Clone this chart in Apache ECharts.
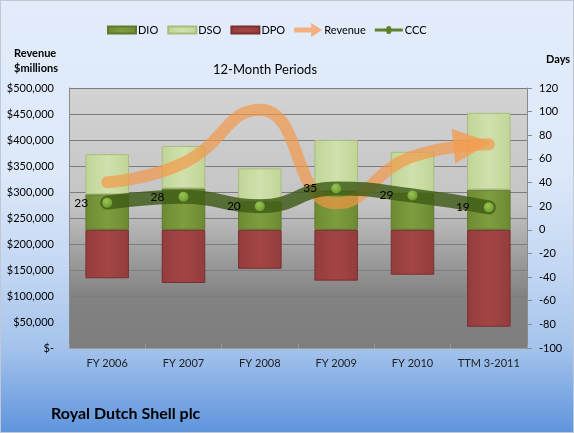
<!DOCTYPE html>
<html>
<head>
<meta charset="utf-8">
<script src="https://cdn.jsdelivr.net/npm/echarts@6/dist/echarts.min.js"></script>
<style>
html,body{margin:0;padding:0;}
#wrap{position:absolute;left:0;top:0;width:572px;height:431px;border:1px solid #bfc8d4;
background:linear-gradient(to bottom,#e2ecfa 0%,#dde8f9 40%,#c3d7f3 62%,#a6c4ec 80%,#5f95dd 100%);}
#chart{width:572px;height:431px;}
</style>
</head>
<body>
<div id="wrap"><div id="chart"></div></div>
<script>
const categories = ['FY 2006','FY 2007','FY 2008','FY 2009','FY 2010','TTM 3-2011'];
const dio = [30, 35, 24, 33, 31, 34];
const dso = [34, 36, 28, 43, 35, 65];
const dpo = [41, 45, 33, 43, 38, 82];
const revenue = [318845, 355782, 458361, 278188, 368056, 392000];
const ccc = [23, 28, 20, 35, 29, 19];
const revTicks = [0, 500000, 50000];
const dayTicks = [-100, 120, 20];

const FONT = 'Lato';
const chart = echarts.init(document.getElementById('chart'));

function hgrad(a,b){
  return new echarts.graphic.LinearGradient(0,0,1,0,[{offset:0,color:a},{offset:0.5,color:b},{offset:1,color:a}]);
}

const revData = revenue.map((v,i)=> i===revenue.length-1 ? {
  value:v, symbol:'path://M0,0L12,5.5L0,11Z', symbolSize:[37,35], symbolKeepAspect:false,
  symbolOffset:[-17,0], symbolRotate:6,
  itemStyle:{color:'rgba(244,155,80,0.78)'}
} : v);

const option = {
  backgroundColor:'transparent',
  animation:false,
  textStyle:{fontFamily:FONT},
  legend:{
    left:101, top:17, itemWidth:28, itemHeight:14, itemGap:9,
    textStyle:{fontFamily:FONT,fontSize:11,color:'#000',padding:[0,0,0,-3]},
    data:[
      {name:'DIO', icon:'path://M0,0h28v7h-28z'},
      {name:'DSO', icon:'path://M0,0h28v7h-28z'},
      {name:'DPO', icon:'path://M0,0h28v7h-28z'},
      {name:'Revenue', icon:'path://M0,4.5h17v-4.5l11,7l-11,7v-4.5h-17z', itemStyle:{color:'#f2b07e'}},
      {name:'CCC', icon:'path://M0,5.5h11.5a2.5,2.5 0 1,1 5,0h11.5v3h-11.5a2.5,2.5 0 1,1 -5,0h-11.5z', itemStyle:{color:'#5e7f2c'}}
    ]
  },
  graphic:[
    {type:'text', left:13, top:45, style:{text:'Revenue\n$millions', font:'bold 11px '+FONT, fill:'#000', lineHeight:15}},
    {type:'text', left:545, top:53, style:{text:'Days', font:'bold 11px '+FONT, fill:'#000'}},
    {type:'text', left:212, top:62, style:{text:'12-Month Periods', font:'13px '+FONT, fill:'#000'}},
    {type:'text', left:50, top:405, style:{text:'Royal Dutch Shell plc', font:'bold 16px '+FONT, fill:'#000'}}
  ],
  grid:{
    left:68, right:46, top:87, bottom:84, show:true, borderWidth:0,
    backgroundColor:new echarts.graphic.LinearGradient(0,0,0,1,[
      {offset:0,color:'#d3d3d3'},{offset:0.45,color:'#c4c4c4'},{offset:0.62,color:'#a3a3a3'},
      {offset:0.8,color:'#828282'},{offset:1,color:'#7e7e7e'}])
  },
  xAxis:{
    type:'category', data:categories,
    axisLine:{show:true,lineStyle:{color:'#9a9a9a'}},
    axisTick:{show:true,length:-4,lineStyle:{color:'#999'}},
    axisLabel:{interval:0,fontFamily:FONT,fontSize:11,color:'#222',margin:10}
  },
  yAxis:[
    {type:'value', min:revTicks[0], max:revTicks[1], interval:revTicks[2], position:'left',
     axisLine:{show:true,lineStyle:{color:'#8a8a8a'}},
     axisTick:{show:false},
     splitLine:{show:true,lineStyle:{color:'#7d7d7d',width:1}},
     axisLabel:{fontFamily:FONT,fontSize:11,color:'#000',margin:15,
       formatter:v=> v===0 ? '$-' : '$'+v.toLocaleString('en-US')}
    },
    {type:'value', min:dayTicks[0], max:dayTicks[1], interval:dayTicks[2], position:'right',
     axisLine:{show:true,lineStyle:{color:'#8a8a8a'}},
     axisTick:{show:true,length:5,lineStyle:{color:'#8a8a8a'}},
     splitLine:{show:false},
     axisLabel:{fontFamily:FONT,fontSize:11,color:'#000',margin:12}
    }
  ],
  series:[
    {name:'DIO', type:'bar', yAxisIndex:1, stack:'days', barWidth:'57%', data:dio,
     itemStyle:{color:hgrad('#6d8a33','#7e9d3e'), borderColor:'#5f7a2b', borderWidth:1}},
    {name:'DSO', type:'bar', yAxisIndex:1, stack:'days', data:dso,
     itemStyle:{color:hgrad('#c0d596','#d0e1ad'), borderColor:'#a8bd7c', borderWidth:1}},
    {name:'DPO', type:'bar', yAxisIndex:1, stack:'days', data:dpo.map(v=>-v),
     itemStyle:{color:hgrad('#943c3c','#a44545'), borderColor:'#7a2f2f', borderWidth:1}},
    {name:'Revenue', type:'line', yAxisIndex:0, smooth:0.5, data:revData,
     symbol:'none', showSymbol:true,
     lineStyle:{color:'rgba(244,150,70,0.68)', width:12, cap:'round', join:'round'},
     itemStyle:{color:'rgba(244,150,70,0.68)'}, z:3},
    {name:'CCC', type:'line', yAxisIndex:1, smooth:0.5, data:ccc,
     symbol:'circle', symbolSize:10,
     lineStyle:{color:'rgba(62,92,22,0.82)', width:14, cap:'round', join:'round'},
     itemStyle:{color:new echarts.graphic.RadialGradient(0.4,0.35,0.7,[{offset:0,color:'#9bc456'},{offset:1,color:'#6a9a2a'}]), borderWidth:0},
     label:{show:true, position:'left', distance:14, fontFamily:FONT, fontSize:12, color:'#000'},
     z:4}
  ]
};
chart.setOption(option);
</script>
</body>
</html>
